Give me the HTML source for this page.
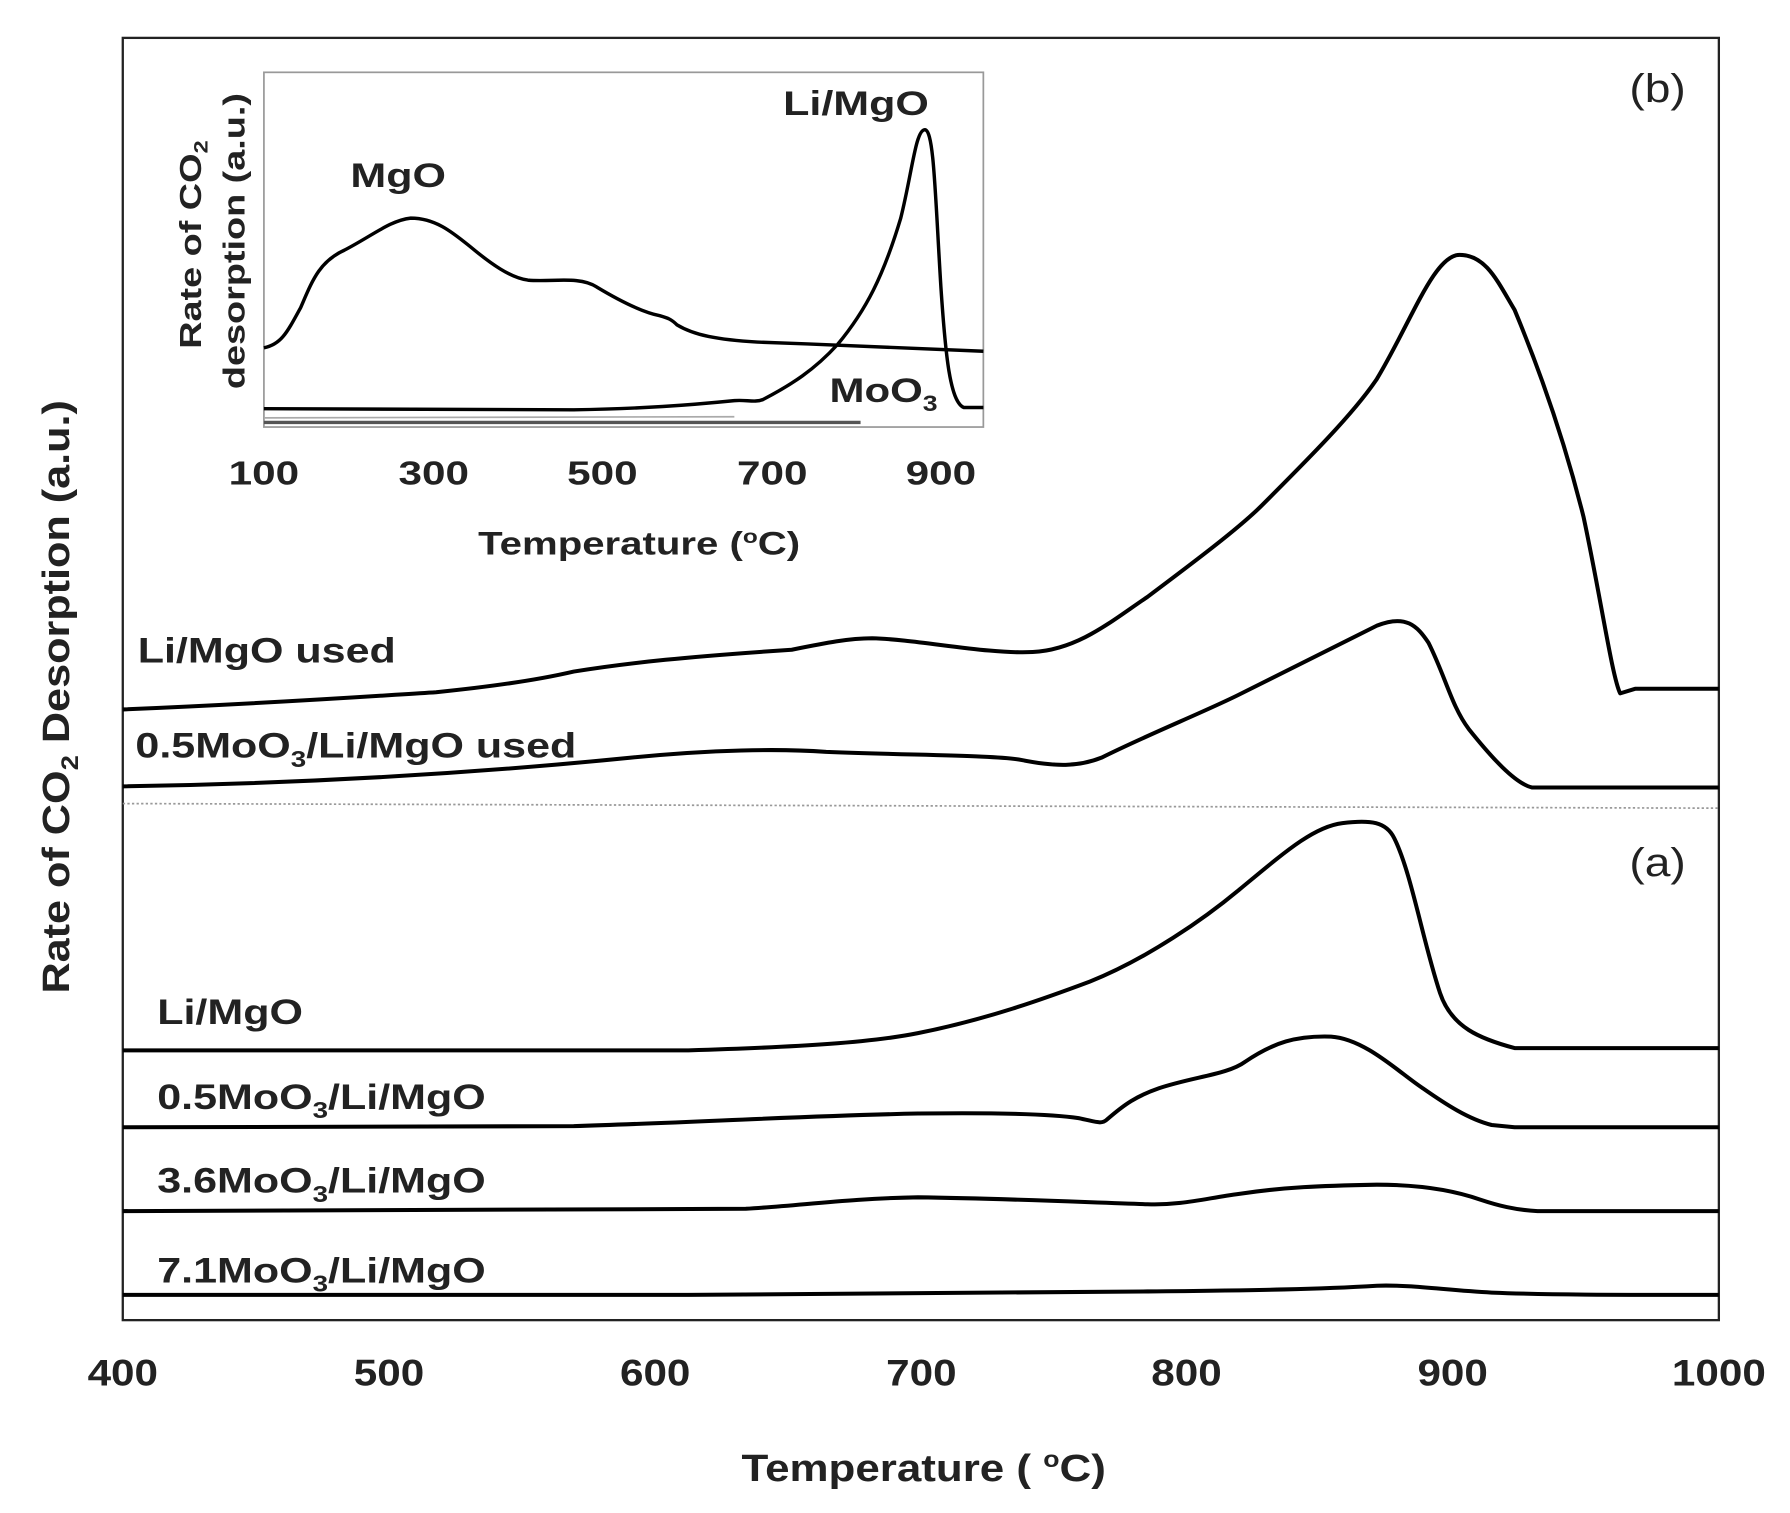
<!DOCTYPE html>
<html><head><style>html,body{margin:0;padding:0;background:#fff}svg{display:block}</style></head><body>
<svg width="1790" height="1513" viewBox="0 0 1560 1318" preserveAspectRatio="none" xmlns="http://www.w3.org/2000/svg" font-family="Liberation Sans, Arial, sans-serif">
<rect x="107" y="33" width="1391" height="1117" fill="none" stroke="#222" stroke-width="2"/>
<line x1="107" y1="700" x2="1498" y2="704" stroke="#999" stroke-width="1.5" stroke-dasharray="2,2"/>
<g fill="none" stroke="#000" stroke-width="3.5" stroke-linejoin="round">
<path d="M107,618 C250,612 330,606 380,603 C430,598 470,592 500,585 C550,577 600,572 690,566 C720,560 740,556 760,556 C800,557 860,570 900,568 C940,566 970,540 1000,520 C1040,490 1080,460 1100,440 C1140,400 1180,360 1200,330 C1230,280 1250,222 1272,222 C1295,222 1305,245 1320,270 C1345,330 1365,390 1380,450 C1395,520 1405,590 1412,604 L1425,600 L1498,600"/>
<path d="M107,685 C300,682 450,670 550,660 C620,653 680,652 720,655 C800,658 870,658 890,662 C920,668 940,668 960,660 C1000,640 1050,620 1080,605 C1140,575 1180,555 1200,545 C1225,535 1235,545 1245,560 C1260,590 1265,615 1280,635 C1300,660 1320,682 1335,686 L1498,686"/>
<path d="M107,915 L600,915 C700,912 760,908 800,900 C860,888 910,870 950,855 C1000,835 1050,800 1080,775 C1120,742 1145,720 1170,717 C1195,714 1208,716 1215,730 C1230,760 1240,820 1255,865 C1265,895 1290,905 1320,913 L1498,913"/>
<path d="M107,982 L500,981 C600,978 700,972 800,970 C880,969 920,971 940,974 C955,977 960,980 965,975 C980,962 990,955 1010,948 C1040,938 1070,936 1085,925 C1110,908 1130,902 1160,903 C1190,905 1220,935 1240,948 C1260,962 1280,975 1300,980 L1320,982 L1498,982"/>
<path d="M107,1055 L650,1053 C700,1050 740,1044 800,1043 C880,1044 960,1048 1000,1049 C1030,1050 1050,1044 1080,1040 C1120,1034 1150,1033 1200,1032 C1240,1032 1270,1038 1290,1045 C1305,1050 1320,1054 1340,1055 L1498,1055"/>
<path d="M107,1128 L600,1128 C700,1127 800,1126 1000,1125 C1100,1124 1150,1123 1200,1120 C1230,1119 1260,1124 1300,1126 C1350,1128 1400,1128 1498,1128"/>
</g>
<rect x="230" y="63" width="627" height="309" fill="#fff" stroke="#999" stroke-width="1.5"/>
<g fill="none" stroke="#000" stroke-width="3" stroke-linejoin="round">
<path d="M230,303 C245,300 250,290 262,268 C272,245 278,228 300,218 C325,205 340,192 358,190 C380,190 395,203 410,215 C428,230 445,242 460,244 C480,246 505,240 520,250 C540,262 560,272 575,275 C582,277 585,278 590,283 C605,292 625,296 660,298 C720,300 760,302 857,306"/>
<path d="M230,356 L500,357 C560,356 600,353 640,349 C650,348 658,351 665,348 C690,335 710,322 730,300 C755,270 770,240 785,190 C795,150 798,113 806,113 C814,113 815,170 820,250 C824,310 828,350 840,355 L857,355"/>
</g>
<line x1="230" y1="368" x2="750" y2="368" stroke="#555" stroke-width="3"/>
<line x1="230" y1="364" x2="640" y2="363" stroke="#aaa" stroke-width="1.5"/>
<g font-weight="bold" font-size="29" text-anchor="middle" fill="#222">
<text transform="translate(230,422) scale(1.27,1)">100</text>
<text transform="translate(378,422) scale(1.27,1)">300</text>
<text transform="translate(525,422) scale(1.27,1)">500</text>
<text transform="translate(673,422) scale(1.27,1)">700</text>
<text transform="translate(820,422) scale(1.27,1)">900</text>
<text transform="translate(557,483) scale(1.25,1)" font-size="28">Temperature (<tspan font-size="17" dy="-10">o</tspan><tspan dy="10">C)</tspan></text>
<text transform="translate(175,213) rotate(-90) scale(1.22,1)" font-size="27">Rate of CO<tspan font-size="17" dy="6">2</tspan></text>
<text transform="translate(213,210) rotate(-90) scale(1.22,1)" font-size="27">desorption (a.u.)</text>
<text transform="translate(347,163) scale(1.25,1)" font-size="30">MgO</text>
<text transform="translate(746,100) scale(1.25,1)" font-size="30">Li/MgO</text>
<text transform="translate(770,350) scale(1.22,1)" font-size="30">MoO<tspan font-size="19" dy="8">3</tspan></text>
</g>
<g font-weight="bold" font-size="32" text-anchor="middle" fill="#222">
<text transform="translate(107,1207) scale(1.15,1)">400</text>
<text transform="translate(339,1207) scale(1.15,1)">500</text>
<text transform="translate(571,1207) scale(1.15,1)">600</text>
<text transform="translate(803,1207) scale(1.15,1)">700</text>
<text transform="translate(1034,1207) scale(1.15,1)">800</text>
<text transform="translate(1266,1207) scale(1.15,1)">900</text>
<text transform="translate(1498,1207) scale(1.15,1)">1000</text>
<text transform="translate(805,1290) scale(1.16,1)" font-size="33">Temperature ( <tspan font-size="20" dy="-12">o</tspan><tspan dy="12">C)</tspan></text>
<text transform="translate(60,607) rotate(-90) scale(1.14,1)" font-size="33">Rate of CO<tspan font-size="21" dy="8">2</tspan><tspan dy="-8"> Desorption (a.u.)</tspan></text>
</g>
<g font-weight="bold" font-size="31" fill="#222">
<text transform="translate(120,577) scale(1.21,1)">Li/MgO used</text>
<text transform="translate(118,660) scale(1.21,1)">0.5MoO<tspan font-size="20" dy="8">3</tspan><tspan dy="-8">/Li/MgO used</tspan></text>
<text transform="translate(137,892) scale(1.21,1)">Li/MgO</text>
<text transform="translate(137,966) scale(1.21,1)">0.5MoO<tspan font-size="20" dy="8">3</tspan><tspan dy="-8">/Li/MgO</tspan></text>
<text transform="translate(137,1039) scale(1.21,1)">3.6MoO<tspan font-size="20" dy="8">3</tspan><tspan dy="-8">/Li/MgO</tspan></text>
<text transform="translate(137,1117) scale(1.21,1)">7.1MoO<tspan font-size="20" dy="8">3</tspan><tspan dy="-8">/Li/MgO</tspan></text>
</g>
<text transform="translate(1420,89) scale(1.15,1)" font-size="35" fill="#222">(b)</text>
<text transform="translate(1420,763) scale(1.15,1)" font-size="35" fill="#222">(a)</text>
</svg>
</body></html>
